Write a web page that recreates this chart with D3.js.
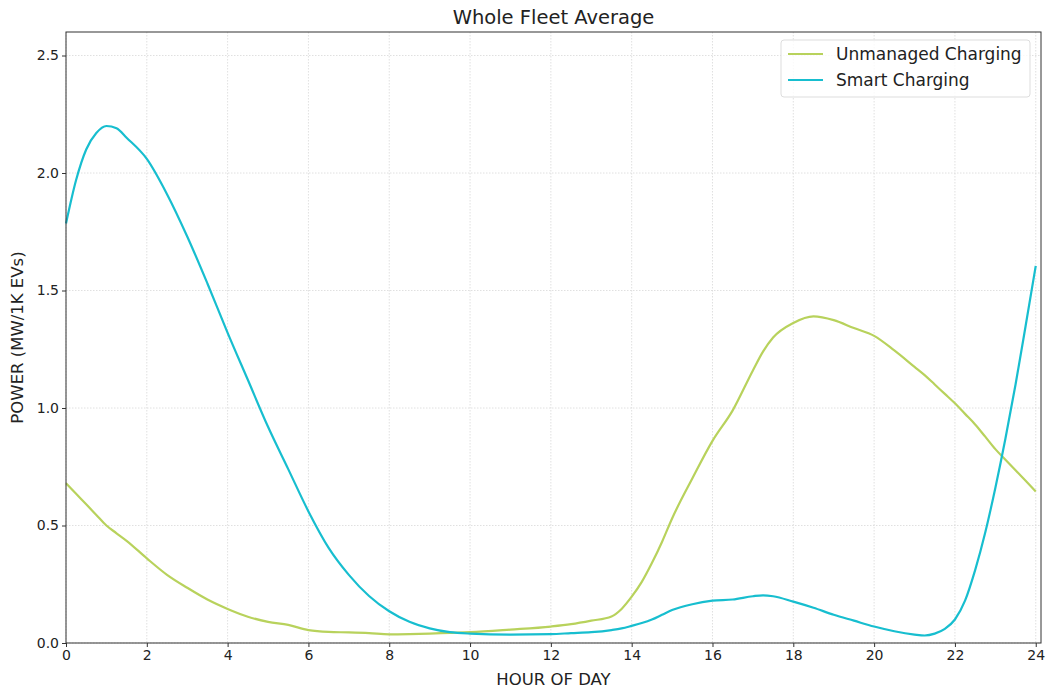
<!DOCTYPE html>
<html>
<head>
<meta charset="utf-8">
<script src="https://cdn.jsdelivr.net/npm/d3@7"></script>
<style>
  body { margin: 0; background: #fff; }
  text { font-family: "DejaVu Sans", sans-serif; fill: #222; }
</style>
</head>
<body>
<svg id="chart" width="1046" height="690"></svg>
<script>
// hours of day
var hours = [0, 0.25, 0.5, 0.75, 1, 1.25, 1.5, 2, 2.5, 3, 3.5, 4, 4.5, 5, 5.5, 6, 6.5, 7, 7.5, 8, 8.5, 9, 9.5, 10, 11, 12, 12.5, 13, 13.5, 13.75, 14, 14.25, 14.5, 14.75, 15, 15.5, 16, 16.5, 17, 17.25, 17.5, 18, 18.5, 19, 19.5, 20, 20.5, 21, 21.25, 21.5, 21.75, 22, 22.25, 22.5, 22.75, 23, 23.25, 23.5, 23.75, 24];

var unmanaged = [0.68, 0.635, 0.59, 0.545, 0.50, 0.467, 0.435, 0.36, 0.29, 0.235, 0.185, 0.145, 0.112, 0.09, 0.077, 0.055, 0.047, 0.045, 0.042, 0.037, 0.038, 0.04, 0.043, 0.046, 0.057, 0.07, 0.08, 0.095, 0.113, 0.145, 0.197, 0.26, 0.34, 0.43, 0.53, 0.70, 0.86, 0.99, 1.16, 1.24, 1.30, 1.362, 1.39, 1.374, 1.34, 1.307, 1.245, 1.175, 1.14, 1.10, 1.06, 1.02, 0.975, 0.93, 0.878, 0.825, 0.78, 0.735, 0.69, 0.645];

var smart = [1.785, 1.97, 2.10, 2.17, 2.20, 2.19, 2.15, 2.06, 1.91, 1.73, 1.53, 1.32, 1.12, 0.92, 0.74, 0.56, 0.405, 0.29, 0.20, 0.135, 0.09, 0.062, 0.046, 0.04, 0.036, 0.038, 0.042, 0.046, 0.055, 0.062, 0.073, 0.085, 0.10, 0.12, 0.14, 0.165, 0.18, 0.185, 0.199, 0.203, 0.199, 0.176, 0.15, 0.12, 0.095, 0.07, 0.05, 0.036, 0.032, 0.04, 0.06, 0.1, 0.18, 0.31, 0.47, 0.66, 0.87, 1.1, 1.35, 1.605];

var xTicks = [0, 2, 4, 6, 8, 10, 12, 14, 16, 18, 20, 22, 24];
var yTicks = [0, 0.5, 1.0, 1.5, 2.0, 2.5];

var seriesNames = ["Unmanaged Charging", "Smart Charging"];
var colors = ["#b8d25c", "#17becf"];

var margin = {left: 66, top: 32, right: 5, bottom: 47};
var width = 1046 - margin.left - margin.right,
    height = 690 - margin.top - margin.bottom;

var svg = d3.select("#chart");
var g = svg.append("g").attr("transform", "translate(" + margin.left + "," + margin.top + ")");

var x = d3.scaleLinear().domain([0, 24.13]).range([0, width]);
var y = d3.scaleLinear().domain([0, 2.6]).range([height, 0]);

// grid
g.append("g").selectAll("line").data(xTicks).join("line")
  .attr("x1", d => x(d)).attr("x2", d => x(d))
  .attr("y1", 0).attr("y2", height)
  .attr("stroke", "#d8d8d8").attr("stroke-width", 0.8).attr("stroke-dasharray", "1.5,1.5");
g.append("g").selectAll("line").data(yTicks).join("line")
  .attr("x1", 0).attr("x2", width)
  .attr("y1", d => y(d)).attr("y2", d => y(d))
  .attr("stroke", "#d8d8d8").attr("stroke-width", 0.8).attr("stroke-dasharray", "1.5,1.5");

// lines
var allSeries = [unmanaged, smart];
var line = d3.line()
  .x((d, i) => x(hours[i]))
  .y(d => y(d))
  .curve(d3.curveMonotoneX);

allSeries.forEach(function(s, k) {
  g.append("path")
    .datum(s)
    .attr("d", line)
    .attr("fill", "none")
    .attr("stroke", colors[k])
    .attr("stroke-width", 2.2);
});

// axes
var xAxis = g.append("g").attr("transform", "translate(0," + height + ")")
  .call(d3.axisBottom(x).tickValues(xTicks).tickFormat(d3.format("d")).tickSize(4).tickPadding(3));
var yAxis = g.append("g")
  .call(d3.axisLeft(y).tickValues(yTicks).tickFormat(d3.format(".1f")).tickSize(4).tickPadding(3));
[xAxis, yAxis].forEach(function(a) {
  a.select(".domain").remove();
  a.selectAll("line").attr("stroke", "#333");
  a.selectAll("text").style("font-size", "14px").style("font-family", "DejaVu Sans, sans-serif").attr("fill", "#222");
});

// frame
g.append("rect").attr("width", width).attr("height", height)
  .attr("fill", "none").attr("stroke", "#333").attr("stroke-width", 1);

// title and labels
svg.append("text").attr("x", margin.left + width / 2).attr("y", 24)
  .attr("text-anchor", "middle").style("font-size", "19.5px").text("Whole Fleet Average");
svg.append("text").attr("x", margin.left + width / 2).attr("y", 685)
  .attr("text-anchor", "middle").style("font-size", "16.5px").text("HOUR OF DAY");
svg.append("text").attr("transform", "translate(23," + (margin.top + height / 2) + ") rotate(-90)")
  .attr("text-anchor", "middle").style("font-size", "16.5px").text("POWER (MW/1K EVs)");

// legend
var lg = svg.append("g").attr("transform", "translate(781,40)");
lg.append("rect").attr("width", 249).attr("height", 57).attr("rx", 3)
  .attr("fill", "#fff").attr("fill-opacity", 0.8).attr("stroke", "#ddd");
seriesNames.forEach(function(n, k) {
  var yy = 14 + k * 26;
  lg.append("line").attr("x1", 7).attr("x2", 42).attr("y1", yy).attr("y2", yy)
    .attr("stroke", colors[k]).attr("stroke-width", 2.2);
  lg.append("text").attr("x", 55).attr("y", yy + 6).style("font-size", "17px").text(n);
});
</script>
</body>
</html>
